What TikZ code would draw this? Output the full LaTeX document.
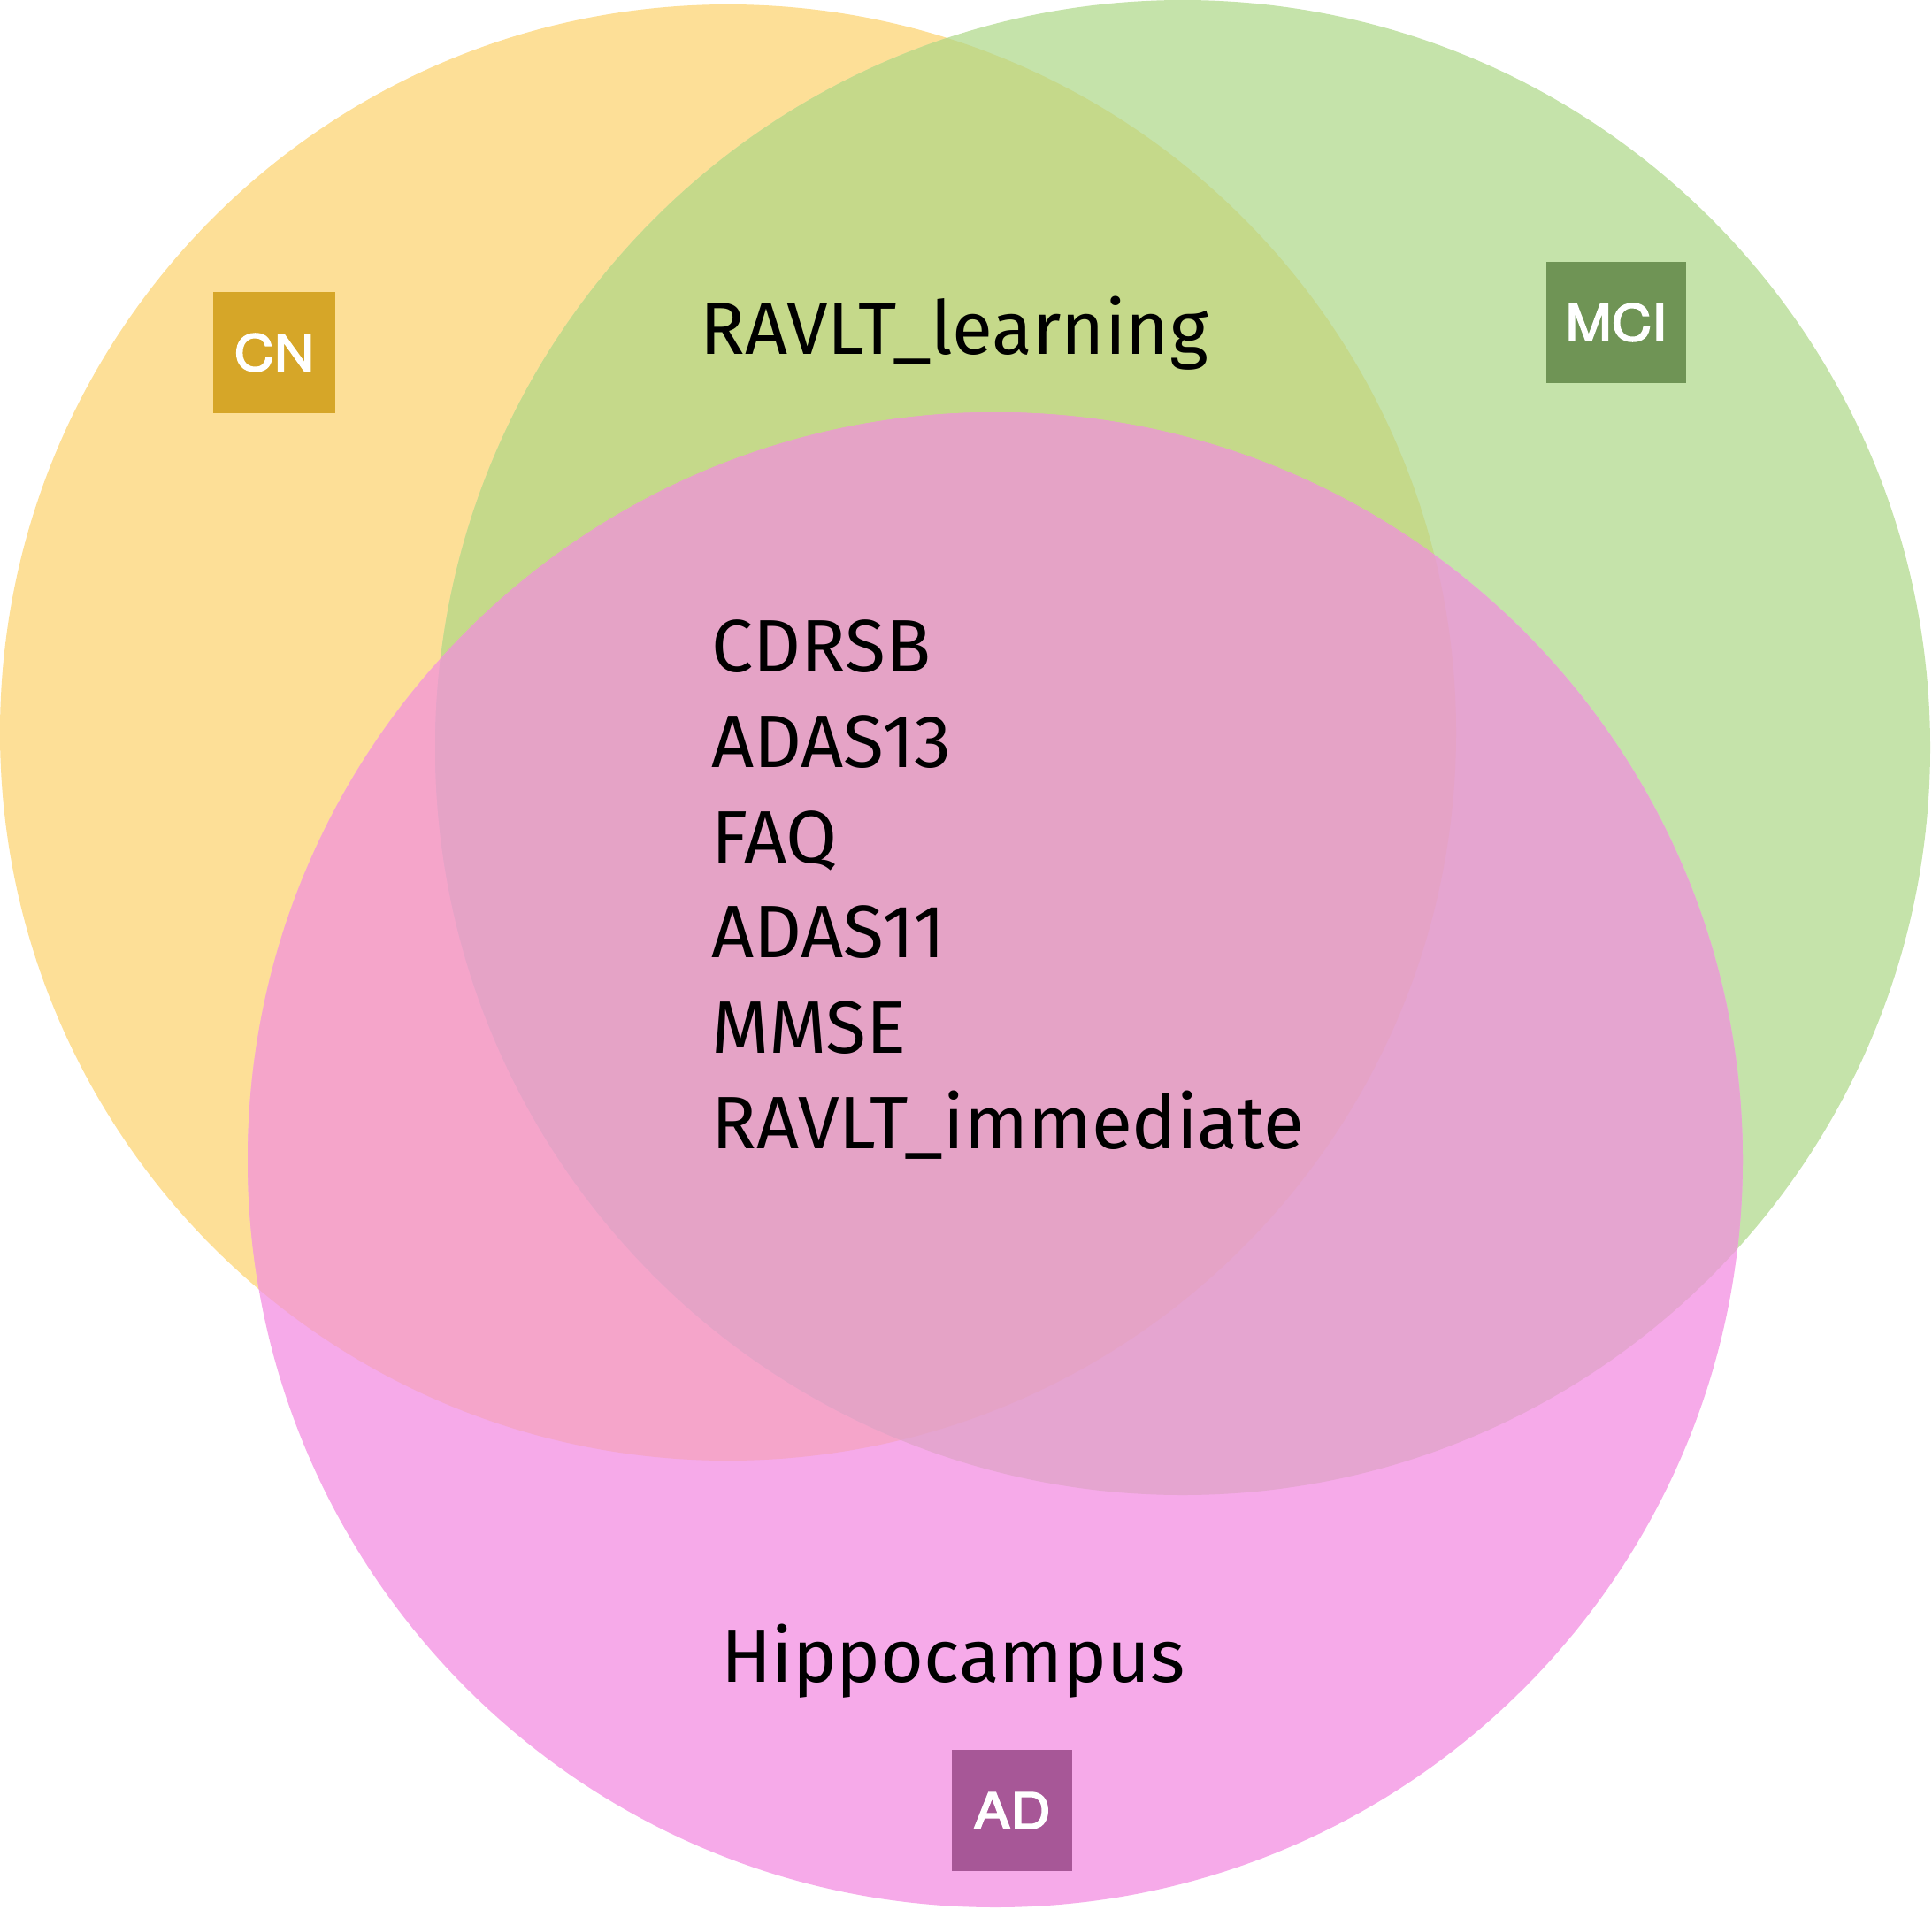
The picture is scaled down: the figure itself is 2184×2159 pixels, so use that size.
\documentclass[tikz,border=0pt]{standalone}
\usepackage{fontspec}
\setmainfont{Fira Sans}
\newfontfamily\labelfont[FakeBold=3,FakeStretch=1.12]{TeX Gyre Heros}
\definecolor{cnC}{HTML}{FDDF97}
\definecolor{mciC}{HTML}{C5E3AA}
\definecolor{adC}{HTML}{F6AAE9}
\definecolor{cmC}{HTML}{C5D98A}
\definecolor{caC}{HTML}{F5A5CA}
\definecolor{maC}{HTML}{E5A5D0}
\definecolor{allC}{HTML}{E5A3C6}
\definecolor{cnBox}{HTML}{D6A628}
\definecolor{mciBox}{HTML}{6F9455}
\definecolor{adBox}{HTML}{A75797}
\begin{document}
\begin{tikzpicture}[x=1pt,y=-1pt,
  every node/.style={inner sep=0pt},
  txt/.style={anchor=base west, font=\fontsize{84}{100}\selectfont},
  tag/.style={minimum width=#1, minimum height=137pt, text=white,
    font=\labelfont\fontsize{56}{60}\selectfont}]
\useasboundingbox (0,0) rectangle (2184,2159);
\coordinate (cnc) at (823,828);
\coordinate (mcic) at (1337,845);
\coordinate (adc) at (1125,1311);
\fill[cnC] (cnc) circle[radius=823];
\fill[mciC] (mcic) circle[radius=845];
\fill[adC] (adc) circle[radius=845];
\begin{scope}\clip (cnc) circle[radius=823]; \fill[cmC] (mcic) circle[radius=845];\end{scope}
\begin{scope}\clip (cnc) circle[radius=823]; \fill[caC] (adc) circle[radius=845];\end{scope}
\begin{scope}\clip (mcic) circle[radius=845]; \fill[maC] (adc) circle[radius=845];\end{scope}
\begin{scope}\clip (cnc) circle[radius=823]; \clip (mcic) circle[radius=845]; \fill[allC] (adc) circle[radius=845];\end{scope}
\node[tag=138pt, fill=cnBox] (cn) at (310,398.5) {CN};
\node[tag=158pt, fill=mciBox] (mci) at (1827,364.5) {MCI};
\node[tag=136pt, fill=adBox] (ad) at (1144,2046.5) {AD};
\node[txt] (rl) at (791,400) {RAVLT\_learning};
\node[txt] (t1) at (804,759) {CDRSB};
\node[txt] (t2) at (804,867) {ADAS13};
\node[txt] (t3) at (804,975) {FAQ};
\node[txt] (t4) at (804,1082) {ADAS11};
\node[txt] (t5) at (804,1190) {MMSE};
\node[txt] (t6) at (804,1298) {RAVLT\_immediate};
\node[txt] (hc) at (815,1901) {Hippocampus};
\end{tikzpicture}
\end{document}
